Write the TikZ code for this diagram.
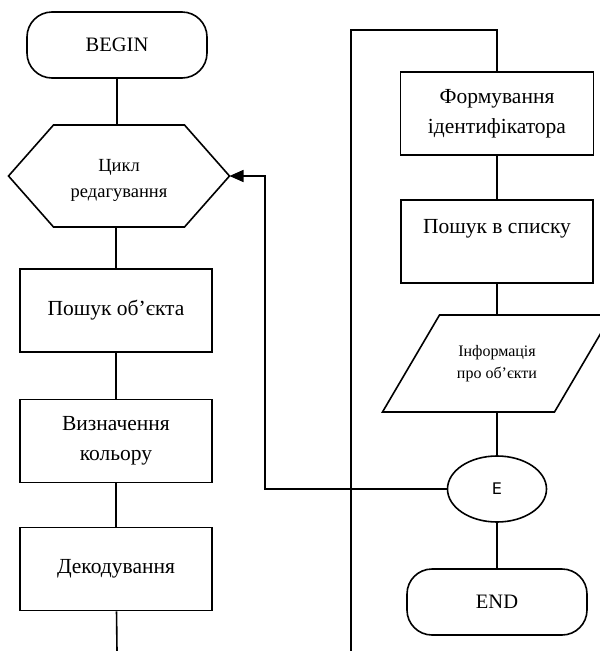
\documentclass[tikz,border=0pt]{standalone}
\usepackage{fontspec}
\setmainfont{Liberation Serif}
\newfontfamily\efont{DejaVu Sans}
\usetikzlibrary{arrows.meta,shapes.geometric,calc}
\begin{document}
\begin{tikzpicture}[x=1pt,y=-1pt,line width=1.6pt,
  box/.style={draw,rectangle,minimum width=192pt,minimum height=83pt,align=center,inner sep=0pt,font=\fontsize{21.5}{30}\selectfont},
  term/.style={draw,rectangle,rounded corners=25pt,minimum width=180pt,minimum height=66pt,inner sep=0pt,font=\fontsize{20.5}{24}\selectfont},
  shapeholder/.style={rectangle,inner sep=0pt,outer sep=0pt,align=center},
  endcirc/.style={draw,ellipse,minimum width=99pt,minimum height=66pt,inner sep=0pt,font=\efont\fontsize{16}{18}\selectfont},
  flow/.style={draw},
  loopback/.style={draw,-{Triangle[length=14pt,width=12pt]}}]
\useasboundingbox (0,0) rectangle (600,651);

% left column
\node[term] (begin) at (117,45) {BEGIN};
\node[shapeholder,minimum width=221pt,minimum height=102pt,font=\fontsize{18.5}{26}\selectfont] (hex) at (119,176) {\rule{0pt}{21pt}Цикл\\редагування};
\draw ($(hex.west)$) -- ($(hex.north west)+(45,0)$) -- ($(hex.north east)+(-45,0)$) -- (hex.east) -- ($(hex.south east)+(-45,0)$) -- ($(hex.south west)+(45,0)$) -- cycle;
\node[box] (find) at (116,310.5) {Пошук об’єкта};
\node[box] (color) at (116,441) {Визначення\\кольору};
\node[box] (decode) at (116,569) {Декодування};
\coordinate (leftend) at (117,651);

% right column
\coordinate (rbot) at (351,651);
\coordinate (rtop) at (351,30);
\node[box,minimum width=193pt] (form) at (497,113.5) {Формування\\ідентифікатора};
\node[box] (search) at (497,241.5) {Пошук в списку\\\mbox{}};
\node[shapeholder,minimum width=229pt,minimum height=97pt,font=\fontsize{16}{22}\selectfont] (info) at (497,363.5) {Інформація\\про об’єкти};
\draw ($(info.north west)+(57,0)$) -- (info.north east) -- ($(info.south east)+(-57,0)$) -- (info.south west) -- cycle;
\node[endcirc] (e) at (497,489) {E};
\node[term] (end) at (497,602) {END};
\coordinate (loopcorner) at (265,176);

% connectors
\path[flow] (begin) -- (hex.north -| begin);
\path[flow] (hex.south -| find) -- (find);
\path[flow] (find) -- (color);
\path[flow] (color) -- (decode);
\path[flow] (decode) -- (leftend);
\path[flow] (rbot) -- (rtop) -| (form.north);
\path[flow] (form) -- (search);
\path[flow] (search) -- (info.north);
\path[flow] (info.south) -- (e);
\path[flow] (e) -- (end);
\path[loopback] (e.west) -| (loopcorner) -- (hex.east);
\end{tikzpicture}
\end{document}
